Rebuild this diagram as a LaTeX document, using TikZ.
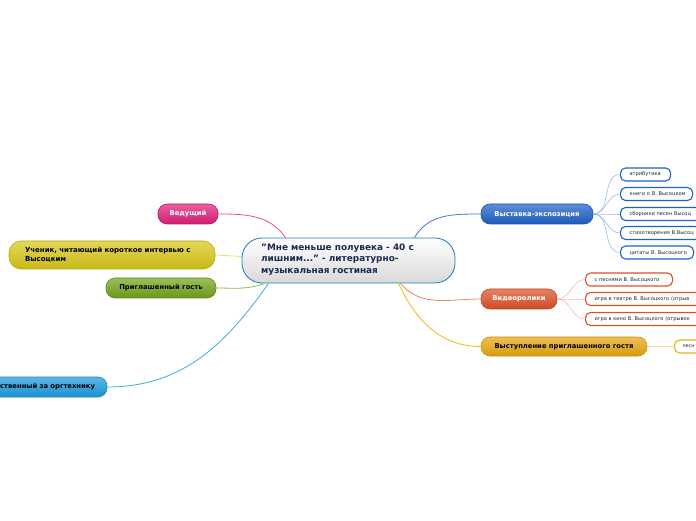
\documentclass[tikz,border=0pt]{standalone}
\usepackage{fontspec}
\setmainfont{DejaVu Sans}
\begin{document}
\begin{tikzpicture}[x=1pt,y=1pt,
  mainnode/.style={rounded corners=9pt, draw=#1!85!black, line width=0.6pt, top color=#1!72!white, bottom color=#1!92!black, font=\fontsize{6.8}{8}\selectfont\bfseries, inner sep=0pt, minimum height=20pt},
  subnode/.style={rounded corners=5pt, draw=#1, line width=1.1pt, fill=white, font=\fontsize{5.1}{6}\selectfont, inner sep=0pt, minimum height=13pt, anchor=west, text=black!85, align=left},
  conn/.style={draw=#1, line width=0.8pt},
  subconn/.style={draw=#1, line width=0.6pt}]
\definecolor{cblue}{HTML}{1E62C8}
\definecolor{corange}{HTML}{E05028}
\definecolor{cgold}{HTML}{E8A810}
\definecolor{cpink}{HTML}{E0207A}
\definecolor{cyel}{HTML}{D8C818}
\definecolor{cgreen}{HTML}{74A41C}
\definecolor{ccyan}{HTML}{1C9CE0}
\definecolor{cnavy}{HTML}{1A2A50}
\useasboundingbox (0,0) rectangle (696,520);
\clip (0,0) rectangle (696,520);

% central node
\node[rounded corners=20pt, draw=ccyan!80!black, line width=0.8pt, top color=white, bottom color=black!15, minimum width=213pt, minimum height=45pt, inner sep=0pt] (c) at (348.5,259.5) {};
\node[anchor=north west, align=left, text=cnavy, font=\fontsize{8.9}{11.4}\selectfont\bfseries, inner sep=0pt] (ct) at (261,276.5) {"Мне меньше полувека - 40 с\\лишним..." - литературно-\\музыкальная гостиная};

% right main nodes
\node[mainnode=cblue, minimum width=112pt, text=white] (exp) at (537,306) {Выставка-экспозиция};
\node[mainnode=corange, minimum width=76pt, text=white] (vid) at (519,221) {Видеоролики};
\node[mainnode=cgold, minimum width=166pt, minimum height=19pt, text=black] (gst) at (564,173.5) {Выступление приглашенного гостя};

% left main nodes
\node[mainnode=cpink, minimum width=60pt, text=white] (ved) at (188,306) {Ведущий};
\node[mainnode=cyel, minimum width=206pt, minimum height=28pt, rounded corners=12pt, text=black, align=left, text width=174pt, font=\fontsize{7}{9}\selectfont\bfseries] (uch) at (112,265) {Ученик, читающий короткое интервью с\\Высоцким};
\node[mainnode=ccyan, minimum width=170pt, text=black, align=right, text width=146pt] (org) at (22,133) {ственный за оргтехнику};
\node[mainnode=cgreen, minimum width=110pt, text=black] (prg) at (161,232) {Приглашенный гость};

% sub nodes: exhibition
\node[subnode=cblue, minimum width=50pt, text width=50pt] (a1) at (620,345.5) {\hspace*{9pt}атрибутика};
\node[subnode=cblue, minimum width=72pt, text width=72pt] (a2) at (620,326) {\hspace*{9pt}книги о В. Высоцком};
\node[subnode=cblue, minimum width=100pt, text width=100pt] (a3) at (620,306) {\hspace*{9pt}сборники песен Высоц};
\node[subnode=cblue, minimum width=100pt, text width=100pt] (a4) at (620,287) {\hspace*{9pt}стихотворения В.Высоц};
\node[subnode=cblue, minimum width=73pt, text width=73pt] (a5) at (620,267.5) {\hspace*{9pt}цитаты В. Высоцкого};

% sub nodes: video
\node[subnode=corange, minimum width=87pt, text width=87pt] (v1) at (585,240.5) {\hspace*{9pt}с песнями В. Высоцкого};
\node[subnode=corange, minimum width=140pt, text width=140pt] (v2) at (585,221) {\hspace*{9pt}игра в театре В. Высоцкого (отрыв};
\node[subnode=corange, minimum width=140pt, text width=140pt] (v3) at (585,201) {\hspace*{9pt}игра в кино В. Высоцкого (отрывок};

% sub node: guest
\node[subnode=cgold!90!yellow, minimum width=60pt, text width=60pt, font=\fontsize{4.8}{6}\selectfont] (g1) at (674,173.5) {\hspace*{8pt}песн};

% connectors from center
\draw[conn=cblue!85!white] ([xshift=66pt]c.north) to[out=60,in=180] (exp.west);
\draw[conn=corange!70!white] ([xshift=52pt]c.south) to[out=-50,in=180] (vid.west);
\draw[conn=cgold!80!yellow] ([xshift=50pt]c.south) to[out=-65,in=180] (gst.west);
\draw[conn=cpink!80!white] (ved.east) to[out=0,in=125] ([xshift=-63pt]c.north);
\draw[conn=cyel!60!white] (uch.east) -- ([yshift=4pt]c.west);
\draw[conn=cgreen!80!white] (prg.east) to[out=0,in=200] ([xshift=-84pt]c.south);
\draw[conn=ccyan!85!white] (org.east) to[out=0,in=235] ([xshift=-80pt]c.south);

% sub connectors
\foreach \n in {a1,a2,a3,a4,a5}
  \draw[subconn=cblue!45!white] (exp.east) to[out=0,in=180] (\n.west);
\foreach \n in {v1,v2,v3}
  \draw[subconn=corange!40!white] (vid.east) to[out=0,in=180] (\n.west);
\draw[subconn=cgold!40!white] (gst.east) -- (g1.west);
\end{tikzpicture}
\end{document}
